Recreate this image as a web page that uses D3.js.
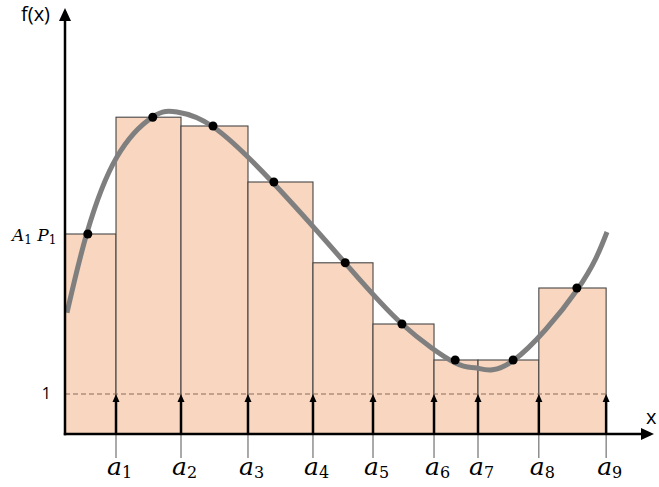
<!DOCTYPE html>
<html>
<head>
<meta charset="utf-8">
<script src="https://cdn.jsdelivr.net/npm/d3@7"></script>
<style>
  body { margin: 0; background: #fff; }
  .bar { fill: #f8d6bf; stroke: #454545; stroke-width: 1.1; }
  .curve { fill: none; stroke: #7f7f7f; stroke-width: 5; stroke-linecap: butt; }
  .axis { stroke: #000; stroke-width: 2.5; }
  .guide { stroke: #8a6a5a; stroke-width: 1.1; stroke-dasharray: 5,3; }
  .tick { stroke: #555; stroke-width: 1; }
</style>
</head>
<body>
<script>
// bar edges a_0 .. a_9 (a_0 is the y axis)
var edges = [0, 0.872, 1.983, 3.128, 4.239, 5.265, 6.308, 7.06, 8.10, 9.25];
var edgeLabels = ["1", "2", "3", "4", "5", "6", "7", "8", "9"];
// bar heights f(x_i)
var heights = [5.0, 7.92, 7.7, 6.3, 4.28, 2.75, 1.85, 1.85, 3.65];
// sample points x_i inside each bar
var sampleX = [0.39, 1.50, 2.53, 3.57, 4.79, 5.76, 6.67, 7.66, 8.75];
// the curve f(x)
var curveX = [0.034, 0.376, 0.889, 1.504, 1.915, 2.53, 3.556, 4.786, 5.761, 6.667, 7.043, 7.658, 8.752, 9.265];
var curveY = [3.03, 5.03, 6.93, 7.93, 8.05, 7.68, 6.28, 4.28, 2.75, 1.78, 1.65, 1.83, 3.6, 5.05];
var levelOne = 1;

var svg = d3.select("body").append("svg").attr("width", 659).attr("height", 487);

var x = d3.scaleLinear().domain([0, 10]).range([65, 650]);
var y = d3.scaleLinear().domain([0, 10.5]).range([434, 14]);

// bars
svg.append("g").selectAll("rect")
    .data(heights)
    .join("rect")
    .attr("class", "bar")
    .attr("x", function(d, i) { return x(edges[i]); })
    .attr("y", function(d) { return y(d); })
    .attr("width", function(d, i) { return x(edges[i + 1]) - x(edges[i]); })
    .attr("height", function(d) { return y(0) - y(d); });

// dashed line at f = 1
svg.append("line")
    .attr("class", "guide")
    .attr("x1", x(0)).attr("x2", x(edges[edges.length - 1]))
    .attr("y1", y(levelOne)).attr("y2", y(levelOne));

// thin lines below the axis down to the labels
svg.append("g").selectAll("line")
    .data(edges.slice(1))
    .join("line")
    .attr("class", "tick")
    .attr("x1", function(d) { return x(d); }).attr("x2", function(d) { return x(d); })
    .attr("y1", y(0)).attr("y2", y(0) + 24);

// arrows from axis to the dashed line
var arrows = svg.append("g").selectAll("g")
    .data(edges.slice(1))
    .join("g");
arrows.append("line")
    .attr("stroke", "#000").attr("stroke-width", 2.5)
    .attr("x1", function(d) { return x(d); }).attr("x2", function(d) { return x(d); })
    .attr("y1", y(0)).attr("y2", y(levelOne) + 6);
arrows.append("path")
    .attr("fill", "#000")
    .attr("d", function(d) {
      var cx = x(d), ty = y(levelOne);
      return "M" + cx + "," + ty + "L" + (cx - 3.5) + "," + (ty + 8) + "L" + (cx + 3.5) + "," + (ty + 8) + "Z";
    });

// the curve
var line = d3.line()
    .x(function(d) { return x(d[0]); })
    .y(function(d) { return y(d[1]); })
    .curve(d3.curveNatural);
svg.append("path")
    .attr("class", "curve")
    .attr("d", line(d3.zip(curveX, curveY)));

// sample points
svg.append("g").selectAll("circle")
    .data(sampleX)
    .join("circle")
    .attr("cx", function(d) { return x(d); })
    .attr("cy", function(d, i) { return y(heights[i]); })
    .attr("r", 4.5)
    .attr("fill", "#000");

// axes
svg.append("line").attr("class", "axis")
    .attr("x1", x(0)).attr("x2", x(0)).attr("y1", y(0) + 1.2).attr("y2", 20);
svg.append("path").attr("fill", "#000")
    .attr("d", "M" + x(0) + ",8L" + (x(0) - 6) + ",21L" + (x(0) + 6) + ",21Z");
svg.append("line").attr("class", "axis")
    .attr("x1", x(0) - 1.2).attr("x2", 642).attr("y1", y(0)).attr("y2", y(0));
svg.append("path").attr("fill", "#000")
    .attr("d", "M654," + y(0) + "L641," + (y(0) - 6) + "L641," + (y(0) + 6) + "Z");

// axis titles
svg.append("text").attr("x", 21).attr("y", 21)
    .attr("font-family", "Open Sans, sans-serif").attr("font-size", 20)
    .text("f(x)");
svg.append("text").attr("x", 646).attr("y", 424)
    .attr("font-family", "Open Sans, sans-serif").attr("font-size", 20)
    .text("x");

// left labels
svg.append("text").attr("x", 51).attr("y", y(levelOne) + 5)
    .attr("text-anchor", "end")
    .attr("font-family", "Open Sans, sans-serif").attr("font-size", 16)
    .text("1");

var ap = svg.append("text").attr("x", 12).attr("y", y(heights[0]) + 7)
    .attr("font-family", "DejaVu Serif, serif").attr("font-size", 17);
ap.append("tspan").attr("font-style", "italic").text("A");
ap.append("tspan").attr("font-size", 12).attr("dy", 3).text("1");
ap.append("tspan").attr("dy", -3).text(" ");
ap.append("tspan").attr("font-style", "italic").text("P");
ap.append("tspan").attr("font-size", 12).attr("dy", 3).text("1");

// a_i labels
var labs = svg.append("g").selectAll("text")
    .data(edges.slice(1))
    .join("text")
    .attr("x", function(d) { return x(d) - 9; })
    .attr("y", 475)
    .attr("font-family", "DejaVu Serif, serif").attr("font-size", 25);
labs.append("tspan").attr("font-style", "italic").text("a");
labs.append("tspan").attr("font-size", 16).attr("dy", 3)
    .text(function(d, i) { return edgeLabels[i]; });
</script>
</body>
</html>
